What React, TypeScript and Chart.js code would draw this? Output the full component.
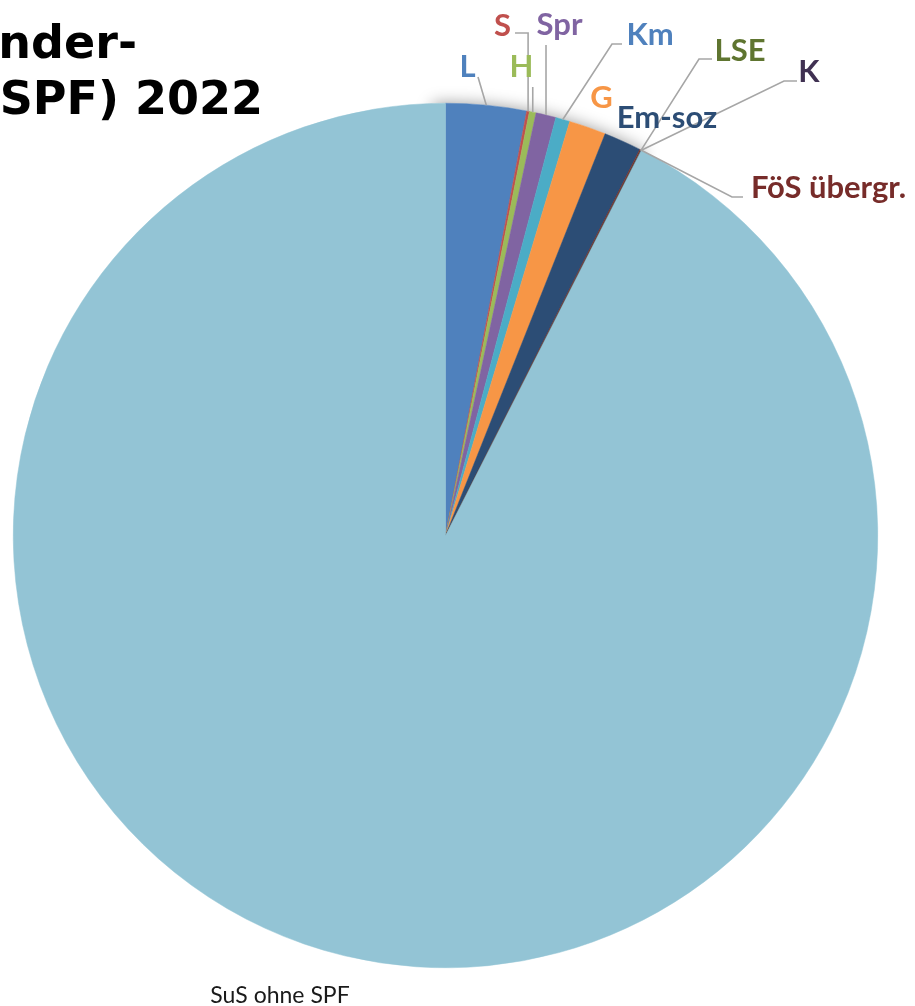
import React, { useEffect, useRef } from "react";
import { Chart, registerables } from "chart.js";

Chart.register(...registerables);

// ---- data ----
const categories = ["L", "S", "H", "Spr", "Km", "G", "Em-soz", "FöS übergr.", "LSE", "K", "SuS ohne SPF"];
const shares = [3.01, 0.10, 0.25, 0.75, 0.53, 1.38, 1.40, 0.05, 0.01, 0.01, 92.51];
const titleLines = ["nder-", "SPF) 2022"];

// ---- styles ----
const sliceColors = ["#4F81BD", "#C0504D", "#9BBB59", "#8064A2", "#4BACC6", "#F79646", "#2C4D75", "#772C2A", "#5F7530", "#4D3B62", "#93C4D5"];
const labelColors = ["#4F81BD", "#C0504D", "#9BBB59", "#8064A2", "#4F81BD", "#F79646", "#2C4D75", "#772C2A", "#5F7530", "#403152", "#1A1A1A"];

// label layout: text centre x, baseline y, leader points (null x => rim anchor x)
const labelLayout: { x: number; y: number; lead: [number | null, number][]; small?: boolean }[] = [
  { x: 467.5, y: 77, lead: [[478, 77]] },
  { x: 502.5, y: 36, lead: [[515, 33], [null, 33]] },
  { x: 521.5, y: 77, lead: [[null, 87]] },
  { x: 559.5, y: 35, lead: [[null, 45]] },
  { x: 650, y: 45, lead: [[622, 44], [612, 44]] },
  { x: 601.5, y: 108, lead: [] },
  { x: 667, y: 128, lead: [] },
  { x: 828.5, y: 198, lead: [[743, 197], [732, 197]] },
  { x: 740, y: 61, lead: [[712, 59], [699, 59]] },
  { x: 809, y: 82, lead: [[797, 81], [784, 81]] },
  { x: 280, y: 1003, lead: [], small: true },
];

const shadowPlugin = {
  id: "sliceShadow",
  beforeDatasetsDraw(chart: any) {
    const meta = chart.getDatasetMeta(0);
    const first = meta.data[0];
    const last = meta.data[9];
    if (!first || !last) return;
    const ctx = chart.ctx;
    ctx.save();
    ctx.shadowColor = "rgba(0,0,0,0.4)";
    ctx.shadowBlur = 16;
    ctx.fillStyle = "#ffffff";
    ctx.beginPath();
    ctx.moveTo(first.x, first.y);
    ctx.arc(first.x, first.y, first.outerRadius, first.startAngle - 0.03, last.endAngle + 0.01);
    ctx.closePath();
    ctx.fill();
    ctx.restore();
  },
};

const labelPlugin = {
  id: "pieLabels",
  afterDatasetsDraw(chart: any) {
    const ctx = chart.ctx;
    const meta = chart.getDatasetMeta(0);
    ctx.save();
    // leader lines
    ctx.strokeStyle = "#A6A6A6";
    ctx.lineWidth = 1.6;
    meta.data.forEach((arc: any, i: number) => {
      const lay = labelLayout[i];
      if (!lay || lay.lead.length === 0) return;
      const mid = (arc.startAngle + arc.endAngle) / 2;
      const ax = arc.x + Math.cos(mid) * arc.outerRadius;
      const ay = arc.y + Math.sin(mid) * arc.outerRadius;
      ctx.beginPath();
      lay.lead.forEach((p, k) => {
        const px = p[0] === null ? ax : p[0];
        if (k === 0) ctx.moveTo(px, p[1]);
        else ctx.lineTo(px, p[1]);
      });
      ctx.lineTo(ax, ay);
      ctx.stroke();
    });
    // texts
    ctx.textAlign = "center";
    ctx.textBaseline = "alphabetic";
    categories.forEach((c, i) => {
      const lay = labelLayout[i];
      ctx.fillStyle = labelColors[i];
      ctx.font = lay.small ? "23px Lato" : "bold 31px Lato";
      ctx.fillText(c, lay.x, lay.y);
    });
    // title (cut at the left edge)
    ctx.fillStyle = "#000000";
    ctx.font = "bold 46px 'DejaVu Sans'";
    ctx.textAlign = "right";
    ctx.fillText(titleLines[0], 137, 58);
    ctx.fillText(titleLines[1], 263, 114);
    ctx.restore();
  },
};

export default function App() {
  const ref = useRef<HTMLCanvasElement | null>(null);
  useEffect(() => {
    if (!ref.current) return;
    const chart = new Chart(ref.current, {
      type: "pie",
      data: {
        labels: categories,
        datasets: [
          {
            data: shares,
            backgroundColor: sliceColors,
            borderColor: sliceColors,
            borderWidth: 0.5,
          },
        ],
      },
      options: {
        responsive: false,
        animation: false,
        layout: { padding: { left: 13, right: 37, top: 103, bottom: 38 } },
        plugins: {
          legend: { display: false },
          tooltip: { enabled: false },
          title: { display: false },
        },
      },
      plugins: [shadowPlugin, labelPlugin],
    });
    return () => chart.destroy();
  }, []);
  return (
    <div style={{ position: "absolute", left: 0, top: 0, width: 915, height: 1006, background: "#ffffff" }}>
      <canvas ref={ref} width={915} height={1006} style={{ display: "block" }} />
    </div>
  );
}
